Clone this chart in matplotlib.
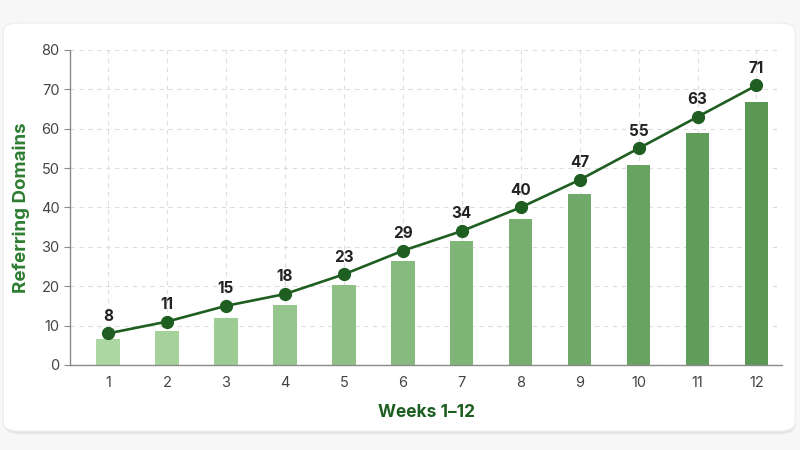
import numpy as np
import matplotlib.pyplot as plt
from matplotlib.patches import FancyBboxPatch
from matplotlib.colors import LinearSegmentedColormap

plt.rcParams['font.family'] = ['Inter', 'DejaVu Sans']

# данные
weeks = list(range(1, 13))
bar_values = [6.6, 8.7, 11.8, 15.2, 20.3, 26.4, 31.5, 37.1, 43.5, 50.7, 58.8, 66.7]
line_values = [8, 11, 15, 18, 23, 29, 34, 40, 47, 55, 63, 71]

fig = plt.figure(figsize=(8, 4.5), dpi=100)
fig.patch.set_facecolor('#f7f7f7')

# карточка с тенью
shadow = FancyBboxPatch((0.006, 0.035), 0.988, 0.91, boxstyle='round,pad=0,rounding_size=0.02',
                        transform=fig.transFigure, facecolor='#e6e6e6', edgecolor='none', zorder=-2)
card = FancyBboxPatch((0.004, 0.042), 0.99, 0.907, boxstyle='round,pad=0,rounding_size=0.02',
                      transform=fig.transFigure, facecolor='white', edgecolor='#ececec', lw=0.8, zorder=-1)
fig.patches.extend([shadow, card])

ax = fig.add_axes([0.0875, 0.189, 0.8905, 0.70])
ax.set_facecolor('none')

cmap = LinearSegmentedColormap.from_list('g', ['#acd7a2', '#5a9854'])
colors = [cmap(i / (len(weeks) - 1)) for i in range(len(weeks))]
ax.bar(weeks, bar_values, width=0.4, color=colors, zorder=2)

ax.plot(weeks, line_values, color='#1e5e20', lw=1.9, marker='o', markersize=8.5, zorder=3)
for w, v in zip(weeks, line_values):
    ax.annotate(str(v), (w, v), xytext=(0, 7), textcoords='offset points', ha='center', va='bottom',
                fontsize=11, fontweight='bold', color='#222222', zorder=4)

ax.set_xlim(0.356, 12.44)
ax.set_ylim(0, 80)
ax.set_yticks(range(0, 81, 10))
ax.set_xticks(weeks)
ax.grid(True, ls=(0, (4, 4)), color='#dddddd', lw=0.8, zorder=0)
for s in ['top', 'right']:
    ax.spines[s].set_visible(False)
for s in ['left', 'bottom']:
    ax.spines[s].set_color('#8a8a8a')
    ax.spines[s].set_linewidth(1.0)
ax.tick_params(axis='y', colors='#444444', labelsize=10.5, length=4.5, pad=3, color='#8a8a8a')
ax.tick_params(axis='x', colors='#444444', labelsize=10.5, length=0, pad=8)

ax.set_xlabel('Weeks 1–12', fontsize=12.5, fontweight='bold', color='#1e5e20', labelpad=10)
ax.set_ylabel('Referring Domains', fontsize=13.5, fontweight='bold', color='#2e7d32', labelpad=8)

fig.savefig('out.png', dpi=100)
